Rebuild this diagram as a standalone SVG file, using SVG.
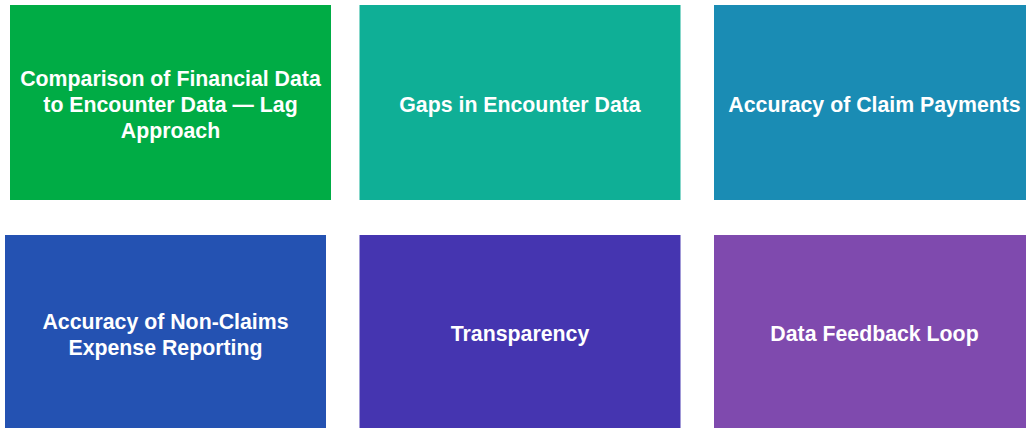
<svg xmlns="http://www.w3.org/2000/svg" width="1026" height="428" viewBox="0 0 1026 428">
  <style>
    .box { stroke: none; }
    .label { font-family: "Liberation Sans", Arial, sans-serif; font-size: 21.3px; font-weight: bold; fill: #ffffff; text-anchor: middle; }
  </style>
  <rect width="1026" height="428" fill="#ffffff"/>
  <g id="node-comparison">
    <rect class="box" x="10" y="5" width="321" height="195" fill="#00AC45"/>
    <text class="label" x="170.5" y="85.5">Comparison of Financial Data</text>
    <text class="label" x="170.5" y="111.5">to Encounter Data — Lag</text>
    <text class="label" x="170.5" y="137.5">Approach</text>
  </g>
  <g id="node-gaps">
    <rect class="box" x="359.5" y="5" width="321" height="195" fill="#0FAF96"/>
    <text class="label" x="520" y="111.5">Gaps in Encounter Data</text>
  </g>
  <g id="node-claim-payments">
    <rect class="box" x="714" y="5" width="321" height="195" fill="#1A8CB4"/>
    <text class="label" x="874.5" y="111.5">Accuracy of Claim Payments</text>
  </g>
  <g id="node-non-claims">
    <rect class="box" x="5" y="235" width="321" height="195" fill="#2452B2"/>
    <text class="label" x="165.5" y="328.5">Accuracy of Non-Claims</text>
    <text class="label" x="165.5" y="354.5">Expense Reporting</text>
  </g>
  <g id="node-transparency">
    <rect class="box" x="359.5" y="235" width="321" height="195" fill="#4535B0"/>
    <text class="label" x="520" y="340.5">Transparency</text>
  </g>
  <g id="node-feedback">
    <rect class="box" x="714" y="235" width="321" height="195" fill="#7F4AAE"/>
    <text class="label" x="874.5" y="340.5">Data Feedback Loop</text>
  </g>
  <g id="connectors"></g>
</svg>
